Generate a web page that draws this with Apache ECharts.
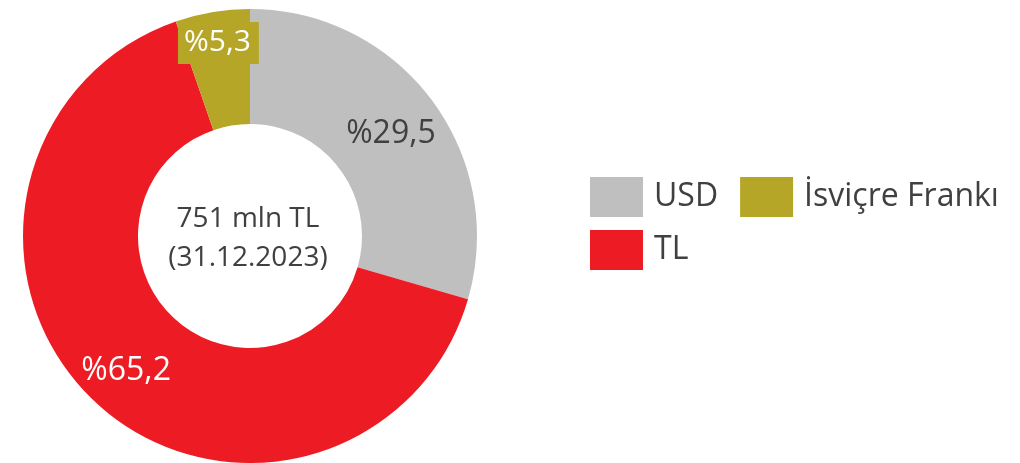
<!DOCTYPE html>
<html>
<head>
<meta charset="utf-8">
<script src="https://cdn.jsdelivr.net/npm/echarts@6/dist/echarts.min.js"></script>
<style>
  html, body { margin: 0; padding: 0; background: #ffffff; }
  #chart { width: 1020px; height: 463px; }
</style>
</head>
<body>
<div id="chart"></div>
<script>
  // veriler
  var categories = ['USD', 'TL', 'İsviçre Frankı'];
  var shares = [29.5, 65.2, 5.3];
  var sliceColors = ['#BFBFBF', '#ED1C24', '#B5A627'];
  var centerLines = ['751 mln TL', '(31.12.2023)'];

  var fontName = 'Open Sans';
  var textColor = '#404040';

  var chart = echarts.init(document.getElementById('chart'));

  var pieData = categories.map(function (name, i) {
    var item = {
      name: name,
      value: shares[i],
      itemStyle: { color: sliceColors[i] }
    };
    if (i === 0) {
      item.label = { color: textColor, offset: [3, 1] };
    } else if (i === 1) {
      item.label = { color: '#ffffff', offset: [-5, 10] };
    } else {
      item.label = {
        color: '#ffffff',
        fontSize: 30,
        backgroundColor: sliceColors[i],
        padding: [7, 8, 5, 6],
        offset: [-3, -23]
      };
    }
    return item;
  });

  chart.setOption({
    backgroundColor: '#ffffff',
    animation: false,
    legend: [
      {
        data: [categories[0], categories[2]],
        left: 590,
        top: 177,
        padding: 0,
        orient: 'horizontal',
        itemWidth: 53,
        itemHeight: 40,
        itemGap: 22,
        icon: 'rect',
        textStyle: { fontFamily: fontName, fontSize: 32, color: textColor, padding: [0, 0, 0, 6] }
      },
      {
        data: [categories[1]],
        left: 590,
        top: 230,
        padding: 0,
        itemWidth: 53,
        itemHeight: 40,
        icon: 'rect',
        textStyle: { fontFamily: fontName, fontSize: 32, color: textColor, padding: [0, 0, 0, 6] }
      }
    ],
    series: [
      {
        type: 'pie',
        center: [250, 236],
        radius: [112, 227],
        startAngle: 90,
        clockwise: true,
        silent: true,
        label: {
          show: true,
          position: 'inside',
          fontFamily: fontName,
          fontSize: 32,
          formatter: function (p) {
            return '%' + String(p.value).replace('.', ',');
          }
        },
        labelLine: { show: false },
        data: pieData
      }
    ],
    graphic: [
      {
        type: 'text',
        x: 248,
        y: 239,
        style: {
          text: centerLines.join('\n'),
          textAlign: 'center',
          textVerticalAlign: 'middle',
          fontFamily: fontName,
          fontSize: 28,
          lineHeight: 39,
          fill: textColor
        }
      }
    ]
  });
</script>
</body>
</html>
